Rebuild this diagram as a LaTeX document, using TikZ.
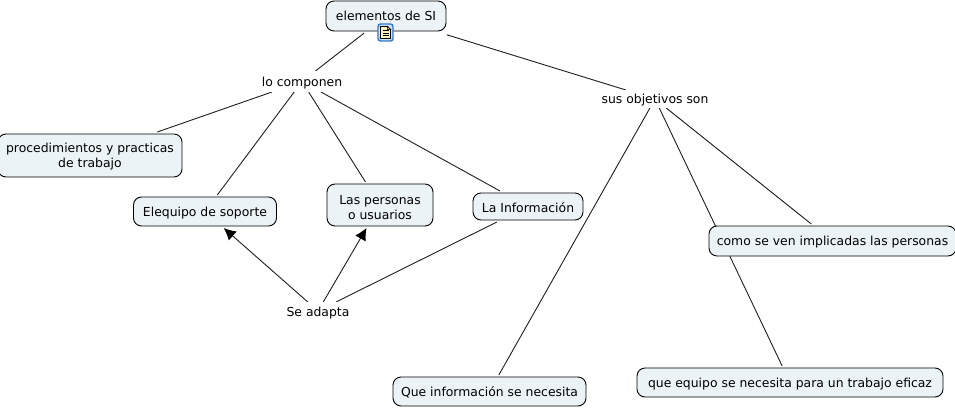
\documentclass[tikz,border=0pt]{standalone}
\usepackage{fontspec}
\setmainfont{DejaVu Sans}
\usepackage{tikz}
\usetikzlibrary{arrows.meta, backgrounds}
\definecolor{MapFill}{RGB}{236,243,246}
\definecolor{MapLine}{RGB}{30,30,30}
\definecolor{NoteBlue}{RGB}{50,120,200}
\definecolor{NoteSky}{RGB}{205,228,250}
\definecolor{NotePage}{RGB}{250,240,190}
\newcommand{\bajar}[1]{\rule{0pt}{#1pt}}
\tikzset{
	concepto/.style={draw=black, fill=MapFill, rounded corners=8pt, align=center, outer sep=2pt, inner sep=0pt},
	enlace/.style={inner sep=0pt, outer sep=0pt, fill=white},
	linea/.style={draw=MapLine, line width=0.9pt},
	flecha/.style={linea, -{Latex[length=12pt, width=12pt, black]}}
}
\begin{document}
\begin{tikzpicture}[x=1pt, y=-1pt, font=\fontsize{12.4}{15}\selectfont, line width=0.9pt]
	\useasboundingbox (0,0) rectangle (955,409);
	% conceptos
	\foreach \n/\x/\y/\w/\h/\t in {
		elementos/386/16/120/30/{\bajar{10}elementos de SI},
		procedimientos/90/155.5/184/43/{\bajar{12}procedimientos y practicas\\de trabajo},
		soporte/205/211.5/143/29/{\bajar{12}Elequipo de soporte},
		personas/380/205/106/42/{\bajar{14}Las personas\\o usuarios},
		informacion/528/206.5/110/27/{\bajar{12}La Información},
		implicadas/832.5/241/247/30/{\bajar{12}como se ven implicadas las personas},
		eficaz/790/382.5/306/29/{\bajar{12}que equipo se necesita para un trabajo eficaz},
		necesita/489.5/391.5/193/29/{\bajar{12}Que información se necesita}}{
		\node[concepto, minimum width=\w pt, minimum height=\h pt] (\n) at (\x,\y) {\t};
	}
	% palabras de enlace
	\node[enlace, minimum width=84pt, minimum height=21pt] (componen) at (302,81.5) {\bajar{13}lo componen};
	\node[enlace, minimum width=112pt, minimum height=18pt] (objetivos) at (655,99) {\bajar{11}sus objetivos son};
	\node[enlace, minimum width=66pt, minimum height=18pt] (adapta) at (318,311) {\bajar{13}Se adapta};
	% nota
	\node[draw=NoteBlue, fill=NoteSky, rounded corners=2.5pt, line width=1.4pt, minimum width=15pt, minimum height=17pt, inner sep=0pt] (nota) at (385.5,32.5) {};
	\node[draw=black, fill=NotePage, line width=0.7pt, minimum width=10pt, minimum height=12pt, inner sep=0pt] (hoja) at (nota) {};
	\fill[NoteSky] (hoja.north east) ++(-3.5,-0.4) -- ++(3.9,0) -- ++(0,3.9) -- cycle;
	\draw[line width=0.7pt] (hoja.north east) ++(-3.5,0) -- ++(3.5,3.5) -- ++(-3.5,0) -- cycle;
	\foreach \k in {-2,0.5,3}
		\draw[line width=0.7pt] ([shift={(-3,\k)}]hoja.center) -- ([shift={(3,\k)}]hoja.center);
	% conexiones
	\begin{scope}[on background layer]
		\foreach \a/\b in {elementos/componen, componen/procedimientos,
			componen/soporte, componen/personas, componen/informacion, informacion/adapta,
			objetivos/necesita, objetivos/implicadas, objetivos/eficaz}
			\draw[linea] (\a) -- (\b);
		\draw[linea, shorten <=6pt] (elementos) -- (objetivos);
		\foreach \b in {soporte, personas}
			\draw[flecha] (adapta) -- (\b);
	\end{scope}
\end{tikzpicture}
\end{document}
